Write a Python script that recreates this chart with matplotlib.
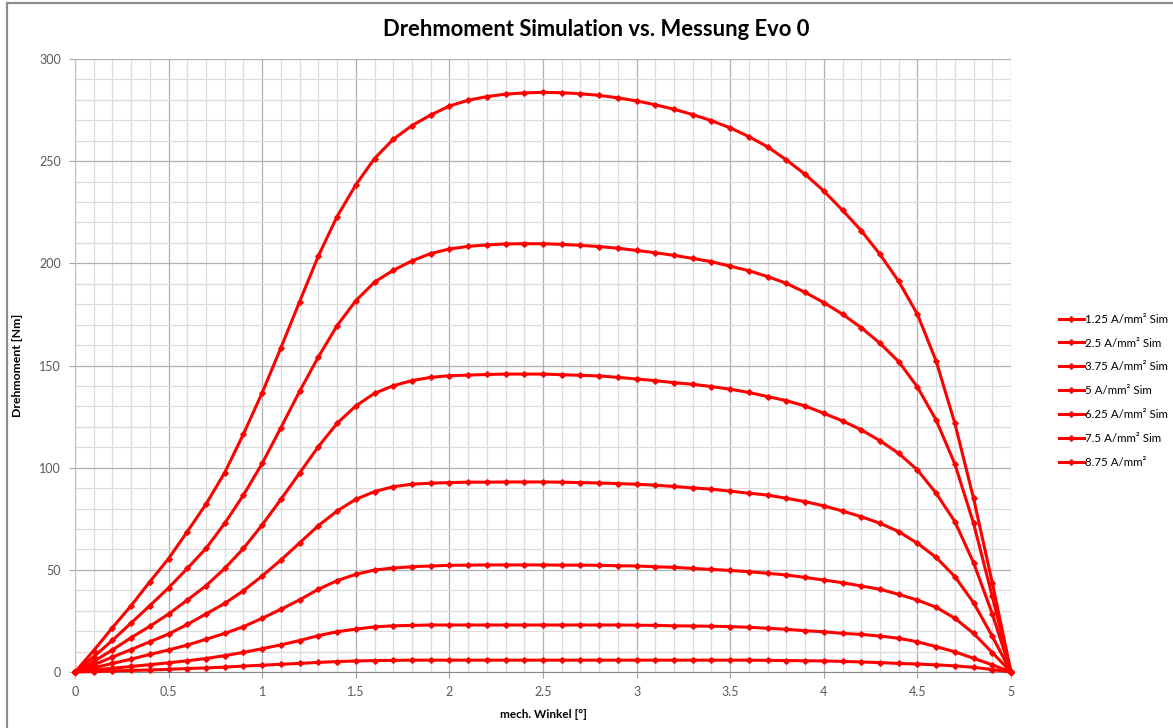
from matplotlib import pyplot as plt
from matplotlib.patches import Rectangle
from matplotlib.ticker import MultipleLocator

plt.rcParams["font.family"] = ["Lato", "DejaVu Sans"]

winkel = [0.0, 0.1, 0.2, 0.3, 0.4, 0.5, 0.6, 0.7, 0.8, 0.9,
          1.0, 1.1, 1.2, 1.3, 1.4, 1.5, 1.6, 1.7, 1.8, 1.9,
          2.0, 2.1, 2.2, 2.3, 2.4, 2.5, 2.6, 2.7, 2.8, 2.9,
          3.0, 3.1, 3.2, 3.3, 3.4, 3.5, 3.6, 3.7, 3.8, 3.9,
          4.0, 4.1, 4.2, 4.3, 4.4, 4.5, 4.6, 4.7, 4.8, 4.9, 5.0]

sim_1_25 = [0, 0.2, 0.5, 0.75, 1.0, 1.3, 1.7, 2.0, 2.4, 2.9,
            3.3, 3.8, 4.2, 4.7, 5.1, 5.4, 5.6, 5.7, 5.8, 5.8,
            5.8, 5.8, 5.8, 5.8, 5.8, 5.8, 5.8, 5.8, 5.8, 5.8,
            5.8, 5.8, 5.8, 5.8, 5.8, 5.8, 5.8, 5.7, 5.6, 5.5,
            5.4, 5.2, 4.9, 4.6, 4.2, 3.9, 3.5, 3.0, 2.3, 1.2, 0]
sim_2_5 = [0, 0.9, 1.8, 2.7, 3.6, 4.5, 5.5, 6.6, 8.0, 9.6,
           11.4, 13.3, 15.4, 17.8, 19.7, 21.0, 22.1, 22.6, 22.8, 23.0,
           23.0, 23.0, 23.0, 23.0, 23.0, 23.0, 23.0, 23.0, 23.0, 23.0,
           22.9, 22.8, 22.6, 22.5, 22.4, 22.2, 21.9, 21.4, 20.9, 20.2,
           19.7, 18.9, 18.4, 17.6, 16.5, 14.8, 12.4, 9.9, 6.7, 3.5, 0]
sim_3_75 = [0, 2.0, 4.2, 6.3, 8.6, 10.8, 13.2, 16.0, 18.9, 22.2,
            26.3, 30.7, 35.3, 40.5, 44.7, 47.8, 49.9, 50.9, 51.5, 51.9,
            52.2, 52.3, 52.4, 52.4, 52.4, 52.4, 52.3, 52.3, 52.2, 52.0,
            51.9, 51.5, 51.2, 50.7, 50.2, 49.7, 49.1, 48.3, 47.5, 46.3,
            45.0, 43.7, 42.1, 40.5, 38.0, 35.2, 31.7, 26.3, 18.9, 9.5, 0]
sim_5 = [0, 3.5, 7.3, 11.0, 14.8, 18.6, 23.3, 28.4, 33.6, 39.8,
         47.0, 54.8, 63.2, 71.6, 78.8, 84.5, 88.3, 90.7, 91.9, 92.4,
         92.7, 92.9, 92.9, 93.0, 93.0, 93.0, 92.9, 92.7, 92.5, 92.2,
         91.9, 91.4, 90.8, 90.1, 89.5, 88.5, 87.5, 86.6, 85.0, 83.4,
         81.3, 78.8, 76.0, 72.8, 68.7, 63.0, 56.1, 46.7, 33.9, 17.5, 0]
sim_6_25 = [0, 5.2, 10.8, 16.8, 22.4, 28.4, 35.2, 42.2, 50.7, 60.5,
            72.0, 84.5, 97.4, 110.3, 121.7, 130.2, 136.4, 140.1, 142.6, 144.2,
            145.0, 145.3, 145.6, 145.8, 145.8, 145.8, 145.5, 145.2, 144.9, 144.2,
            143.4, 142.6, 141.6, 140.8, 139.7, 138.4, 136.8, 134.8, 132.8, 130.2,
            126.6, 122.9, 118.5, 113.2, 107.0, 98.9, 87.5, 73.6, 53.5, 28.5, 0]
sim_7_5 = [0, 7.5, 15.5, 24.0, 32.5, 41.2, 50.7, 60.5, 72.8, 86.6,
           102.1, 119.6, 137.4, 154.2, 169.5, 181.7, 190.8, 196.6, 201.2, 204.8,
           207.0, 208.3, 209.0, 209.5, 209.6, 209.6, 209.3, 208.8, 208.2, 207.4,
           206.3, 205.2, 203.9, 202.4, 200.8, 198.6, 196.4, 193.5, 190.2, 185.8,
           180.8, 175.1, 168.5, 160.9, 151.9, 139.5, 123.3, 101.8, 72.8, 37.0, 0]
sim_8_75 = [0, 10.5, 21.7, 32.5, 44.2, 55.5, 68.7, 82.2, 97.6, 116.5,
            136.7, 158.7, 181.3, 203.6, 222.9, 238.4, 251.3, 260.7, 267.4, 272.6,
            277.0, 279.8, 281.6, 282.8, 283.4, 283.7, 283.5, 283.0, 282.2, 281.0,
            279.5, 277.6, 275.4, 272.8, 269.8, 266.3, 262.0, 257.0, 250.6, 243.6,
            235.4, 226.0, 216.0, 204.4, 191.2, 175.1, 152.2, 121.7, 85.0, 43.7, 0]

series = [sim_1_25, sim_2_5, sim_3_75, sim_5, sim_6_25, sim_7_5, sim_8_75]
labels = ["1.25 A/mm² Sim", "2.5 A/mm² Sim", "3.75 A/mm² Sim", "5 A/mm² Sim",
          "6.25 A/mm² Sim", "7.5 A/mm² Sim", "8.75 A/mm²"]

fig = plt.figure(figsize=(11.73, 7.28), dpi=100)
ax = fig.add_axes([75 / 1173, 1 - 672 / 728, 936 / 1173, 613 / 728])

for vals, lab in zip(series, labels):
    ax.plot(winkel, vals, color="#ff0000", lw=2.2, marker="D", ms=2.8,
            mec="#ff0000", label=lab, clip_on=False, zorder=3)

ax.set_xlim(0, 5)
ax.set_ylim(0, 300)
ax.xaxis.set_major_locator(MultipleLocator(0.5))
ax.xaxis.set_minor_locator(MultipleLocator(0.1))
ax.yaxis.set_major_locator(MultipleLocator(50))
ax.yaxis.set_minor_locator(MultipleLocator(10))
ax.xaxis.set_major_formatter(plt.FuncFormatter(lambda v, p: f"{v:g}"))
ax.grid(which="major", color="#b0b0b0", lw=0.9)
ax.grid(which="minor", color="#dcdcdc", lw=0.9)
ax.set_axisbelow(True)
for side in ["top", "right"]:
    ax.spines[side].set_visible(False)
ax.spines["left"].set_color("#bfbfbf")
ax.spines["bottom"].set_color("#868686")
ax.tick_params(which="major", direction="out", length=4, color="#a0a0a0",
               labelsize=9, labelcolor="#595959", pad=6)
ax.tick_params(which="minor", length=0)

ax.set_xlabel("mech. Winkel [°]", fontsize=8.5, fontweight="bold", labelpad=8)
ax.set_ylabel("Drehmoment [Nm]", fontsize=8.8, fontweight="bold", labelpad=12)
fig.text(596 / 1173, 1 - 30 / 728, "Drehmoment Simulation vs. Messung Evo 0",
         ha="center", va="center", fontsize=15.8, fontweight="bold")

ax.legend(loc="upper left", bbox_to_anchor=(1054 / 1173, 1 - 309 / 728),
          bbox_transform=fig.transFigure, frameon=False, fontsize=8.3,
          handlelength=2.2, handletextpad=0.1, labelspacing=1.12,
          borderaxespad=0)

# outer chart frame
fig.patches.append(Rectangle((7 / 1173, -0.05), 1.1, 0.05 + 1 - 3 / 728,
                             transform=fig.transFigure, fill=False,
                             edgecolor="#8c8c8c", lw=1.6))

fig.savefig("out.png", dpi=100)
